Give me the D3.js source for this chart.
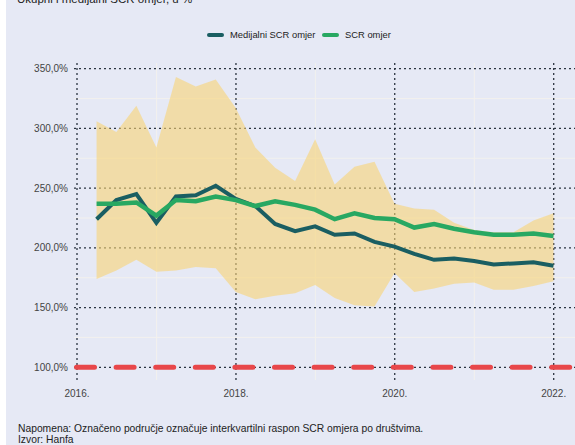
<!DOCTYPE html>
<html><head><meta charset="utf-8">
<script src="https://cdn.jsdelivr.net/npm/d3@7"></script>
<style>html,body{margin:0;padding:0;background:#fff;}svg{display:block;}</style>
</head><body>
<svg id="c" width="575" height="445"></svg>
<script>
// ---- data ----
const quarters = ["2016-03-31","2016-06-30","2016-09-30","2016-12-31","2017-03-31","2017-06-30","2017-09-30","2017-12-31",
  "2018-03-31","2018-06-30","2018-09-30","2018-12-31","2019-03-31","2019-06-30","2019-09-30","2019-12-31",
  "2020-03-31","2020-06-30","2020-09-30","2020-12-31","2021-03-31","2021-06-30","2021-09-30","2021-12-31"];
const q3 = [306,297,319,284,343,335,341,317,284,267,256,291,253,268,272,237,233,232,221,215,213,213,223,229];
const q1 = [174,181,190,180,181,184,183,163,157,160,162,169,158,152,151,179,163,166,170,171,165,165,168,172];
const median = [224,240,245,221,243,244,252,241,235,220,214,218,211,212,205,201,195,190,191,189,186,187,188,185];
const scr = [237,237,238,227,240,239,243,240,235,239,236,232,224,229,225,224,217,220,216,213,211,211,212,210];
const yTicks = [100,150,200,250,300,350];
const yMinor = [125,175,225,275,325];
const xTicks = ["2016-01-01","2018-01-01","2020-01-01","2022-01-01"];
const xMinor = ["2017-01-01","2019-01-01","2021-01-01"];
const threshold = 100;

const svg = d3.select("#c");
const W = 575, H = 445;
const bg = "#e6e9f5";
svg.append("rect").attr("x",6).attr("y",0).attr("width",W-6).attr("height",H).attr("fill",bg);

const parse = d3.timeParse("%Y-%m-%d");
const dates = quarters.map(parse);
const x = d3.scaleTime().domain([parse("2016-01-01"), parse("2022-01-01")]).range([77, 553.7]);
const y = d3.scaleLinear().domain([100,350]).range([367.3, 68.7]);
const plot = {left:74, right:575, top:63, bottom:380};

svg.append("defs").append("clipPath").attr("id","clip").append("rect")
  .attr("x",plot.left).attr("y",plot.top).attr("width",plot.right-plot.left).attr("height",plot.bottom-plot.top);

const font = "'Liberation Sans', Arial, sans-serif";

// minor gridlines
const g = svg.append("g");
g.selectAll(".ym").data(yMinor).join("line")
  .attr("x1",plot.left).attr("x2",plot.right).attr("y1",d=>y(d)).attr("y2",d=>y(d))
  .attr("stroke","#f3f1ee").attr("stroke-width",1);
g.selectAll(".xm").data(xMinor.map(parse)).join("line")
  .attr("x1",d=>x(d)).attr("x2",d=>x(d)).attr("y1",plot.top).attr("y2",plot.bottom)
  .attr("stroke","#f3f1ee").attr("stroke-width",1);

// major dotted gridlines
g.selectAll(".yM").data(yTicks).join("line")
  .attr("x1",plot.left).attr("x2",plot.right).attr("y1",d=>y(d)).attr("y2",d=>y(d))
  .attr("stroke","#2b3440").attr("stroke-width",1.3).attr("stroke-dasharray","2,3");
g.selectAll(".xM").data(xTicks.map(parse)).join("line")
  .attr("x1",d=>x(d)).attr("x2",d=>x(d)).attr("y1",plot.top).attr("y2",plot.bottom)
  .attr("stroke","#2b3440").attr("stroke-width",1.3).attr("stroke-dasharray","2,3");

// band
const area = d3.area().x((d,i)=>x(dates[i])).y0((d,i)=>y(q1[i])).y1((d,i)=>y(q3[i]));
svg.append("path").datum(q3).attr("d",area).attr("fill","rgb(248,212,117)").attr("fill-opacity",0.6)
  .attr("clip-path","url(#clip)");

// lines
const line = d3.line().x((d,i)=>x(dates[i])).y(d=>y(d));
svg.append("path").datum(median).attr("d",line).attr("fill","none").attr("stroke","#1a5e62")
  .attr("stroke-width",4).attr("stroke-linejoin","miter");
svg.append("path").datum(scr).attr("d",line).attr("fill","none").attr("stroke","#28a862")
  .attr("stroke-width",4.5).attr("stroke-linejoin","miter");

// threshold
svg.append("line").attr("x1",plot.left+2.5).attr("x2",plot.right).attr("y1",y(threshold)).attr("y2",y(threshold))
  .attr("stroke","#e8474a").attr("stroke-width",5).attr("stroke-linecap","round")
  .attr("stroke-dasharray","18,21.6");

// axes labels
const fmt = d => d3.format(".1f")(d).replace(".",",") + "%";
svg.selectAll(".yl").data(yTicks).join("text")
  .attr("x",68).attr("y",d=>y(d)).attr("dy","0.35em").attr("text-anchor","end")
  .attr("font-family",font).attr("font-size",10).attr("fill","#444").text(fmt);
svg.selectAll(".xl").data(xTicks.map(parse)).join("text")
  .attr("x",d=>x(d)).attr("y",393).attr("dy","0.35em").attr("text-anchor","middle")
  .attr("font-family",font).attr("font-size",10).attr("fill","#444").text(d=>d3.timeFormat("%Y")(d)+".");

// legend
const legend = [{name:"Medijalni SCR omjer", color:"#1a5e62", x:207},{name:"SCR omjer", color:"#28a862", x:322}];
const lg = svg.selectAll(".lg").data(legend).join("g");
lg.append("line").attr("x1",d=>d.x+2).attr("x2",d=>d.x+15).attr("y1",35).attr("y2",35)
  .attr("stroke",d=>d.color).attr("stroke-width",4).attr("stroke-linecap","round");
lg.append("text").attr("x",d=>d.x+23).attr("y",35).attr("dy","0.35em")
  .attr("font-family",font).attr("font-size",9.4).attr("fill","#222").text(d=>d.name);

// title (cut off at top, as in the reference)
svg.append("text").attr("x",17).attr("y",3).attr("font-family",font).attr("font-size",11.5)
  .attr("fill","#222").text("Ukupni i medijalni SCR omjer, u %");

// footnotes
svg.append("text").attr("x",18).attr("y",432).attr("font-family",font).attr("font-size",10.3)
  .attr("fill","#222").text("Napomena: Označeno područje označuje interkvartilni raspon SCR omjera po društvima.");
svg.append("text").attr("x",18).attr("y",442.5).attr("font-family",font).attr("font-size",10.3)
  .attr("fill","#222").text("Izvor: Hanfa");
</script>
</body></html>
